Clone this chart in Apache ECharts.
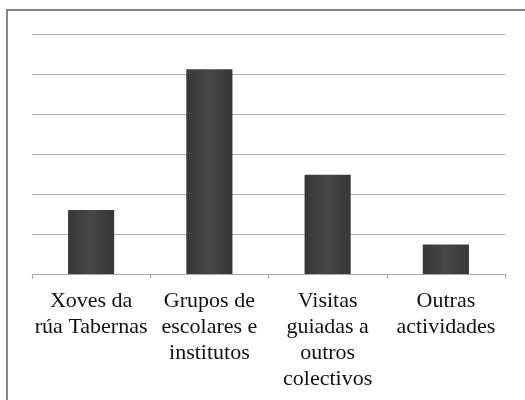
<!DOCTYPE html>
<html><head><meta charset="utf-8">
<script src="https://cdn.jsdelivr.net/npm/echarts@6/dist/echarts.min.js"></script>
<style>html,body{margin:0;padding:0;background:#fff}#c{width:525px;height:400px}</style>
</head><body><div id="c"></div>
<script>
var categories = ["Xoves da\nrúa Tabernas", "Grupos de\nescolares e\ninstitutos", "Visitas\nguiadas a\noutros\ncolectivos", "Outras\nactividades"];
var values = [1.6, 5.12, 2.48, 0.74];
var chart = echarts.init(document.getElementById('c'), null, {renderer: 'canvas'});
chart.setOption({
  backgroundColor: '#fff',
  animation: false,
  graphic: [
    {type: 'polyline', shape: {points: [[7, 400], [7, 10], [525, 10]]}, style: {fill: 'none', stroke: '#858585', lineWidth: 2}, silent: true}
  ],
  grid: {left: 32, right: 20, top: 34, bottom: 126, containLabel: false},
  xAxis: {
    type: 'category', data: categories,
    axisLine: {lineStyle: {color: '#a8a8a8', width: 1}},
    axisTick: {show: true, length: 5, lineStyle: {color: '#a8a8a8'}},
    axisLabel: {interval: 0, margin: 14, color: '#111', fontFamily: 'Liberation Serif', fontSize: 22, lineHeight: 26}
  },
  yAxis: {
    type: 'value', min: 0, max: 6, interval: 1,
    axisLabel: {show: false}, axisLine: {show: false}, axisTick: {show: false},
    splitLine: {lineStyle: {color: '#b0b0b0', width: 1}}
  },
  series: [{
    type: 'bar', data: values, barWidth: '39%',
    itemStyle: {color: new echarts.graphic.LinearGradient(0, 0, 1, 0, [
      {offset: 0, color: '#383838'}, {offset: 0.5, color: '#484848'}, {offset: 1, color: '#363636'}])}
  }]
});
</script></body></html>
